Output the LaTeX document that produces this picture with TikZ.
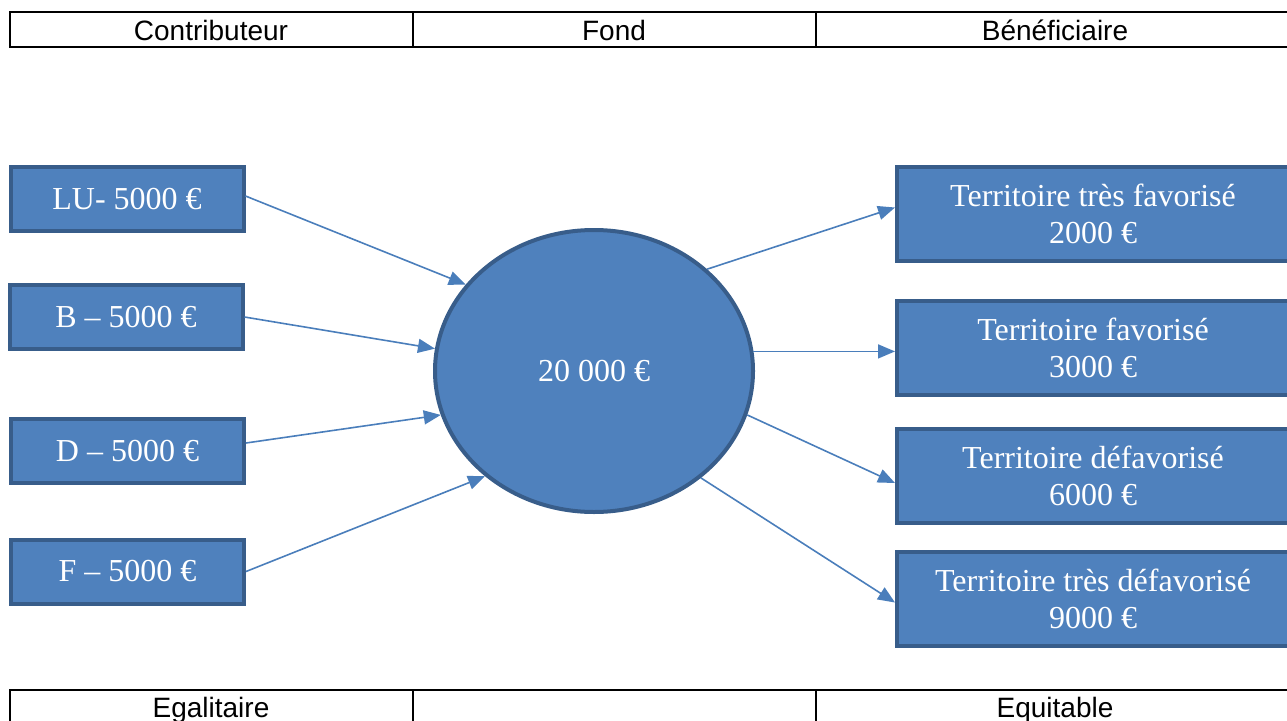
\documentclass[tikz,border=0pt]{standalone}
\usepackage{fontspec}
\setmainfont{Liberation Serif}
\newfontfamily\tablefont{Liberation Sans}
\usetikzlibrary{shapes.geometric,arrows.meta}
\definecolor{boxfill}{HTML}{4F81BD}
\definecolor{boxline}{HTML}{385D8A}
\definecolor{arrowcol}{HTML}{4A7EBB}
\tikzset{
  giver/.style={draw=boxline, fill=boxfill, line width=4pt, minimum width=233pt, minimum height=64pt, inner sep=0pt, text=white, font=\fontsize{32}{37}\selectfont},
  taker/.style={draw=boxline, fill=boxfill, line width=4pt, minimum width=392pt, minimum height=94pt, inner sep=0pt, align=center, text=white, font=\fontsize{32}{37}\selectfont},
  fund/.style={ellipse, draw=boxline, fill=boxfill, line width=4pt, minimum width=318pt, minimum height=282pt, inner sep=0pt, text=white, font=\fontsize{32}{37}\selectfont},
  flow/.style={draw=arrowcol, line width=1.6pt, -{Triangle[length=17pt,width=14pt]}},
  tabline/.style={draw=black, line width=2pt},
  tabtext/.style={font=\tablefont\fontsize{28}{32}\selectfont, text=black, inner sep=0pt}
}
\begin{document}
\begin{tikzpicture}[x=1pt,y=-1pt]
\useasboundingbox (0,0) rectangle (1287,720);
\clip (0,0) rectangle (1287,720);
% top table
\draw[tabline] (10,12) rectangle (1300,47);
\draw[tabline] (413,12) -- (413,47) (816,12) -- (816,47);
\node[tabtext] (hc) at (211,30) {Contributeur};
\node[tabtext] (hf) at (614,30) {Fond};
\node[tabtext] (hb) at (1055,30) {Bénéficiaire};
% bottom table
\draw[tabline] (10,690) rectangle (1300,760);
\draw[tabline] (413,690) -- (413,760) (816,690) -- (816,760);
\node[tabtext, anchor=base] (he) at (211,717) {Egalitaire};
\node[tabtext, anchor=base] (hq) at (1055,717) {Equitable};
% contributors
\node[giver] (lu) at (127,199) {LU- 5000 €};
\node[giver] (b) at (126,317) {B – 5000 €};
\node[giver] (d) at (127.5,451) {D – 5000 €};
\node[giver] (f) at (127.5,571.5) {F – 5000 €};
% fund
\node[fund] (fond) at (594,371) {20 000 €};
% beneficiaries
\node[taker] (t1) at (1093,213.5) {Territoire très favorisé\\2000 €};
\node[taker] (t2) at (1093,348) {Territoire favorisé\\3000 €};
\node[taker] (t3) at (1093,476) {Territoire défavorisé\\6000 €};
\node[taker] (t4) at (1093,598.5) {Territoire très défavorisé\\9000 €};
% arrows in
\draw[flow] ([yshift=3pt]lu.east) -- (fond.146);
\draw[flow] (b.east) -- (fond.172.6);
\draw[flow] ([yshift=8pt]d.east) -- (fond.196.5);
\draw[flow] (f.east) -- (fond.224.5);
% arrows out
\draw[flow] (fond.42.9) -- ([yshift=6pt]t1.west);
\draw[flow] (fond.7.8) -- (fond.7.8 -| t2.west);
\draw[flow] (fond.-16.8) -- ([yshift=-7pt]t3.west);
\draw[flow] (fond.-45.5) -- ([yshift=-4pt]t4.west);
\end{tikzpicture}
\end{document}
